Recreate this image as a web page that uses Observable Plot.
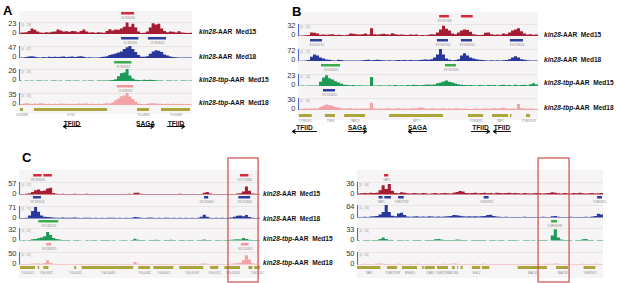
<!DOCTYPE html>
<html><head><meta charset="utf-8">
<script src="https://cdn.jsdelivr.net/npm/d3@7"></script>
<script src="https://cdn.jsdelivr.net/npm/@observablehq/plot@0.6"></script>
<style>
body{margin:0;background:#fff;}
#root{position:relative;width:617px;height:283px;overflow:hidden;font-family:"Liberation Sans",Arial,sans-serif;}
.lbl{position:absolute;white-space:nowrap;font-family:"Liberation Sans",Arial,sans-serif;font-weight:bold;font-size:8px;line-height:8px;color:#111;transform:scaleX(0.82);transform-origin:0 50%;}
.letter{position:absolute;font-weight:bold;font-size:13px;line-height:13px;color:#000;}
.bg{position:absolute;background:#f6f4f4;}
</style></head><body><div id="root"></div><script>
// ---------------- DATA ----------------
const trackNames = ["kin28-AAR Med15","kin28-AAR Med18","kin28-tbp-AAR Med15","kin28-tbp-AAR Med18"];
const trackColors = ["#a61c32","#27389a","#1e9a57","#f3a2a6"];
const peakColors = {red:"#d8283e", blue:"#2c3e9e", green:"#3bad4d", pink:"#f0959c"};
const geneColor = "#aca53c";

// signal values, as a fraction of each track's data range
// Panel A
const A_range = [23,47,26,35];
const A_kin28_Med15 = [0.1,0.12,0.15,0.25,0.45,0.35,0.2,0.12,0.1,0.15, 0.12,0.18,0.2,0.38,0.3,0.2,0.22,0.18,0.25,0.22, 0.15,0.25,0.38,0.2,0.12,0.15,0.1,0.15,0.12,0.1, 0.25,0.4,0.3,0.38,0.35,0.45,0.6,0.95,0.6,0.85, 0.55,0.2,0.08,0.1,0.2,0.55,0.9,0.8,0.85,0.45, 0.25,0.15,0.2,0.18,0.12,0.22,0.12,0.1,0.08,0.1];
const A_kin28_Med18 = [0.05,0.05,0.08,0.12,0.15,0.1,0.06,0.05,0.08,0.06, 0.1,0.08,0.1,0.08,0.1,0.12,0.08,0.1,0.12,0.08, 0.12,0.15,0.1,0.05,0.06,0.05,0.04,0.05,0.08,0.1, 0.15,0.25,0.32,0.38,0.45,0.55,0.75,0.9,1.0,0.75, 0.5,0.25,0.1,0.1,0.15,0.35,0.55,0.65,0.6,0.5, 0.3,0.2,0.12,0.08,0.06,0.05,0.05,0.04,0.05,0.05];
const A_tbp_Med15 = [0.04,0,0.05,0.03,0.04,0,0.05,0.04,0.03,0.05, 0,0.04,0.05,0.03,0.04,0,0.04,0.05,0.03,0.04, 0.05,0,0.04,0.03,0.05,0.04,0,0.04,0.05,0.04, 0.05,0.06,0.08,0.15,0.4,0.65,0.7,1.0,0.45,0.2, 0.1,0.08,0.06,0.1,0.08,0.1,0.08,0.06,0.05,0.04, 0,0.05,0.04,0.03,0.05,0,0.04,0.05,0.03,0.04];
const A_tbp_Med18 = [0.08,0.1,0.15,0.12,0.08,0.12,0.1,0.15,0.12,0.08, 0.1,0.08,0.1,0.08,0.12,0.1,0.1,0.08,0.1,0.08, 0.12,0.1,0.12,0.12,0.08,0.1,0.08,0.1,0.08,0.12, 0.15,0.12,0.2,0.4,0.55,0.72,0.8,1.0,0.7,0.5, 0.3,0.12,0.08,0.08,0.1,0.15,0.15,0.12,0.1,0.1, 0.08,0.1,0.08,0.1,0.08,0.1,0.08,0.06,0.08,0.06];
const A_peakColors = ["red","blue","green","pink"];
const A_peaks = [
  [{s:59,e:66.5,label:"IX:358246"}],
  [{s:59,e:69,label:"IX:358118"},{s:74.5,e:85,label:"IX:359020"}],
  [{s:55,e:65,label:"IX:358010"}],
  [{s:56.5,e:66,label:"IX:358080"}]
];
const A_genes = [{s:0.6,e:2.3,label:"YIL046W"},{s:8.7,e:50.9,label:"SYG1"},{s:68.2,e:75.1,label:"YIL048W"},{s:82.1,e:98.8,label:"YIL049W"}];
const A_arrows = [{label:"TFIID",from:35.3,to:25.4},{label:"SAGA",from:68.2,to:77.5},{label:"TFIID",from:85.5,to:95.4}];

// Panel B
const B_range = [32,72,23,30];
const B_kin28_Med15 = [0.05,0.05,0.06,0.08,0.3,0.28,0.2,0.1,0.12,0.1, 0.12,0.15,0.08,0.1,0.08,0.06,0.1,0.2,0.18,0.15, 0.12,0.15,0.2,0.12,0.65,0.15,0.12,0.15,0.18,0.15, 0.12,0.22,0.15,0.1,0.12,0.1,0.08,0.12,0.1,0.12, 0.06,0.08,0.06,0.1,0.15,0.12,0.3,0.55,0.85,0.6, 0.45,0.2,0.15,0.3,0.45,0.55,0.5,0.35,0.15,0.1, 0.08,0.1,0.28,0.3,0.15,0.1,0.12,0.1,0.2,0.15, 0.3,0.45,0.55,0.65,0.4,0.2,0.12,0.15,0.1,0.12];
const B_kin28_Med18 = [0.03,0.03,0.04,0.08,0.35,0.55,0.45,0.3,0.2,0.12, 0.1,0.06,0.05,0.1,0.08,0.05,0.04,0.05,0.04,0.05, 0.04,0.06,0.08,0.1,0.06,0.08,0.1,0.08,0.06,0.05, 0.06,0.05,0.06,0.08,0.06,0.08,0.06,0.08,0.07,0.06, 0.08,0.1,0.12,0.1,0.15,0.3,0.55,1.0,0.55,0.2, 0.1,0.06,0.08,0.15,0.45,0.65,0.45,0.3,0.2,0.15, 0.1,0.08,0.06,0.05,0.06,0.05,0.06,0.05,0.06,0.08, 0.15,0.3,0.4,0.3,0.15,0.1,0.06,0.05,0.05,0.04];
const B_tbp_Med15 = [0.03,0.04,0.03,0.05,0.04,0.05,0.04,0.35,0.7,0.9, 0.65,0.55,0.4,0.3,0.18,0.1,0.08,0.06,0.08,0.05, 0.06,0.04,0.05,0.04,0.75,0.05,0.04,0.06,0.05,0.04, 0.06,0.05,0.08,0.04,0.06,0.05,0.08,0.06,0.1,0.08, 0.06,0.08,0.1,0.12,0.1,0.12,0.22,0.3,0.38,0.45, 0.35,0.3,0.2,0.15,0.1,0.08,0.06,0.08,0.06,0.05, 0.08,0.06,0.05,0.08,0.06,0.08,0.05,0.08,0.1,0.06, 0.08,0.05,0.1,0.06,0.08,0.1,0.06,0.15,0.22,0.12];
const B_tbp_Med18 = [0.08,0.1,0.12,0.1,0.12,0.15,0.12,0.25,0.35,0.45, 0.4,0.35,0.25,0.2,0.15,0.12,0.12,0.15,0.1,0.12, 0.1,0.12,0.1,0.12,0.6,0.12,0.1,0.12,0.1,0.15, 0.12,0.1,0.12,0.15,0.1,0.12,0.1,0.12,0.15,0.12, 0.2,0.18,0.12,0.1,0.15,0.12,0.1,0.12,0.15,0.1, 0.12,0.1,0.15,0.12,0.1,0.12,0.1,0.08,0.1,0.12, 0.08,0.1,0.12,0.1,0.12,0.15,0.12,0.15,0.18,0.12, 0.1,0.12,0.1,0.5,0.15,0.12,0.1,0.12,0.1,0.08];
const B_peakColors = ["red","blue","green","blue"];
const B_peaks = [
  [{s:58.8,e:62.9,label:"XV:567380"},{s:67.9,e:72.8,label:""}],
  [{s:5,e:10,label:"XV:542710"},{s:57.9,e:62.5,label:"XV:567160"},{s:67.9,e:72.5,label:"XV:569290"},{s:88.3,e:93.75,label:"XV:576010"}],
  [{s:9.6,e:17.5,label:"XV:543920"},{s:61.25,e:65.8,label:"XV:567920"}],
  [{s:10.4,e:15.4,label:"XV:543010"}]
];
const B_genes = [{s:0.4,e:5.7,label:"YOR005C"},{s:11.25,e:15.4,label:"TSR3"},{s:19.2,e:27.9,label:"TAF13"},{s:37.9,e:60.4,label:"SPT7"},{s:70.8,e:77.1,label:"YOR008C"},{s:80.8,e:87.5,label:"TAF2"},{s:88.3,e:88.9,label:""},{s:95,e:96.7,label:"YOR011W"}];
const B_arrows = [{label:"TFIID",from:7.5,to:-2.5},{label:"SAGA",from:20.8,to:28.3},{label:"SAGA",from:53.3,to:45.8},{label:"TFIID",from:72.1,to:79.6},{label:"TFIID",from:88.3,to:81.25}];

// Panel C, left region
const C1_range = [57,71,32,50];
const C1_kin28_Med15 = [0.04,0.05,0.06,0.1,0.2,0.35,0.4,0.28,0.32,0.48, 0.55,0.12,0.06,0.05,0.06,0.05,0.04,0.05,0.06,0.05, 0.04,0.05,0.06,0.05,0.04,0.05,0.04,0.05,0.04,0.05, 0.04,0.05,0.04,0.05,0.04,0.05,0.06,0.05,0.14,0.15, 0.06,0.05,0.05,0.04,0.05,0.04,0.05,0.04,0.05,0.04, 0.05,0.04,0.05,0.06,0.05,0.04,0.05,0.05,0.04,0.05, 0.05,0.15,0.2,0.08,0.05,0.04,0.05,0.04,0.05,0.04, 0.05,0.04,0.08,0.1,0.25,0.65,0.3,0.08,0.06,0.05];
const C1_kin28_Med18 = [0.04,0.05,0.06,0.25,0.6,0.92,0.55,0.25,0.15,0.12, 0.1,0.08,0.07,0.06,0.08,0.06,0.07,0.06,0.08,0.06, 0.05,0.06,0.07,0.06,0.05,0.06,0.05,0.06,0.05,0.06, 0.07,0.06,0.05,0.06,0.05,0.06,0.05,0.06,0.12,0.1, 0.06,0.05,0.06,0.08,0.06,0.05,0.06,0.05,0.06,0.07, 0.05,0.06,0.05,0.06,0.05,0.06,0.05,0.06,0.05,0.06, 0.15,0.3,0.15,0.06,0.05,0.06,0.05,0.06,0.05,0.06, 0.08,0.15,0.22,0.25,0.18,0.28,0.12,0.06,0.05,0.06];
const C1_tbp_Med15 = [0.03,0.04,0.03,0.05,0.1,0.12,0.18,0.25,0.35,0.68, 0.45,0.2,0.12,0.08,0.05,0.04,0.05,0,0.04,0.05, 0.03,0,0.05,0.03,0.04,0.05,0,0.04,0.05,0.04, 0.03,0.05,0,0.03,0.05,0.04,0,0.05,0.15,0.06, 0.04,0.05,0,0.04,0.05,0.06,0.04,0,0.05,0.04, 0.06,0.04,0,0.05,0.04,0.03,0.05,0.04,0,0.05, 0.04,0.08,0.05,0.04,0,0.05,0.04,0.03,0.05,0.04, 0.06,0.08,0.1,0.08,0.2,0.12,0.06,0.05,0.04,0.05];
const C1_tbp_Med18 = [0.04,0.05,0.04,0.05,0.06,0.08,0.08,0.06,0.1,0.35, 0.12,0.06,0.05,0.05,0.04,0.05,0.04,0.05,0.04,0.05, 0.04,0.05,0.04,0.05,0.04,0.05,0.04,0.05,0.04,0.05, 0.04,0.05,0.04,0.05,0.04,0.05,0.04,0.05,0.2,0.06, 0.04,0.05,0.04,0.05,0.04,0.05,0.04,0.05,0.04,0.05, 0.04,0.05,0.04,0.05,0.04,0.05,0.04,0.05,0.04,0.05, 0.06,0.08,0.06,0.05,0.04,0.05,0.04,0.05,0.04,0.05, 0.06,0.08,0.1,0.15,0.35,0.75,0.4,0.1,0.06,0.05];
const C1_peakColors = ["red","blue","green","pink"];
const C1_peaks = [
  [{s:5.9,e:9.4,label:"VII:183420"},{s:10.1,e:13.6,label:""},{s:91.7,e:95.2,label:"VII:214880"}],
  [{s:5.8,e:9.1,label:"VII:183510"},{s:76.8,e:78.5,label:"VII:209400"},{s:91,e:95.9,label:"VII:214630"}],
  [{s:8,e:16.3,label:"VII:184220"}],
  [{s:11.3,e:13.3,label:"VII:184870"},{s:92.1,e:95.2,label:"VII:214950"}]
];
const C1_genes = [{s:0.4,e:6.6,label:"YGL001C"},{s:7.8,e:8.4,label:""},{s:10.1,e:12.2,label:"YGL003C"},{s:22.9,e:23.7,label:"YGL005C"},{s:26,e:47.4,label:"YGL006W"},{s:49.5,e:54.4,label:"YGL008C"},{s:55.7,e:64,label:"YGL009C"},{s:66.5,e:76.5,label:"YGL010W"},{s:79.3,e:82.7,label:"YGL011C"},{s:85.2,e:91.7,label:"YGL012W"},{s:95.2,e:96.8,label:""},{s:97.6,e:100,label:"YGL013C"}];
const C1_highlight = [{s:86.7,e:99.2}];

// Panel C, right region
const C2_range = [36,64,33,50];
const C2_kin28_Med15 = [0.08,0.1,0.12,0.1,0.15,0.12,0.15,0.35,0.75,0.45, 0.85,0.3,0.12,0.1,0.18,0.15,0.1,0.08,0.12,0.1, 0.08,0.12,0.1,0.06,0.1,0.12,0.08,0.1,0.12,0.1, 0.08,0.15,0.2,0.28,0.25,0.12,0.1,0.12,0.15,0.1, 0.12,0.15,0.1,0.12,0.08,0.15,0.12,0.1,0.12,0.15, 0.1,0.12,0.1,0.08,0.12,0.1,0.08,0.1,0.12,0.1, 0.08,0.1,0.12,0.18,0.15,0.1,0.08,0.12,0.1,0.08, 0.12,0.1,0.15,0.1,0.08,0.1,0.12,0.08,0.1,0.12];
const C2_kin28_Med18 = [0.04,0.05,0.06,0.05,0.08,0.1,0.12,0.25,0.45,1.0, 0.45,0.15,0.1,0.32,0.38,0.2,0.08,0.06,0.08,0.1, 0.06,0.08,0.06,0.1,0.08,0.06,0.08,0.06,0.08,0.1, 0.12,0.2,0.18,0.15,0.1,0.08,0.1,0.08,0.1,0.08, 0.1,0.12,0.2,0.22,0.12,0.08,0.06,0.05,0.06,0.05, 0.04,0.05,0.04,0.05,0.06,0.05,0.04,0.05,0.04,0.05, 0.06,0.05,0.04,0.1,0.12,0.06,0.05,0.04,0.05,0.06, 0.04,0.05,0.04,0.05,0.06,0.05,0.08,0.12,0.3,0.25];
const C2_tbp_Med15 = [0.04,0,0.05,0.04,0.03,0.05,0.04,0.12,0.25,0.12, 0.05,0.04,0,0.05,0.04,0.03,0.05,0,0.04,0.05, 0.04,0,0.05,0.04,0.05,0.1,0.12,0.08,0.05,0.04, 0.05,0.04,0.08,0.06,0.05,0.04,0,0.05,0.04,0.05, 0.04,0.05,0,0.04,0.05,0.03,0.04,0.05,0,0.04, 0.05,0.04,0.03,0,0.05,0.04,0.03,0.05,0,0.04, 0.05,0.04,0,0.4,0.9,0.25,0.08,0.04,0.05,0.04, 0,0.04,0.05,0.1,0.12,0.05,0.04,0,0.05,0.04];
const C2_tbp_Med18 = [0.04,0.05,0.06,0.04,0.05,0.04,0.06,0.08,0.06,0.05, 0.04,0.05,0.04,0.06,0.05,0.04,0.05,0.04,0.05,0.06, 0.04,0.05,0.04,0.05,0.06,0.05,0.04,0.05,0.06,0.05, 0.06,0.08,0.06,0.05,0.04,0.05,0.04,0.06,0.05,0.04, 0.05,0.06,0.05,0.04,0.05,0.04,0.05,0.04,0.05,0.04, 0.04,0.05,0.04,0.05,0.04,0.05,0.04,0.05,0.04,0.05, 0.05,0.04,0.06,0.05,0.08,0.06,0.05,0.04,0.05,0.04, 0.05,0.04,0.05,0.06,0.05,0.04,0.05,0.06,0.05,0.04];
const C2_peakColors = ["red","blue","green","pink"];
const C2_peaks = [
  [{s:11,e:12.7,label:"TAF1"}],
  [{s:8.8,e:10.4,label:"TAF1"},{s:11.1,e:13.8,label:""},{s:16.7,e:19,label:"YGR275W"},{s:51.5,e:53.5,label:"YGR283C"},{s:97.6,e:99.6,label:"YGR295C"}],
  [{s:78.9,e:81.3,label:"YGR290W"}],
  []
];
const C2_genes = [{s:0,e:9.5,label:"TAF1"},{s:12.2,e:16.3,label:"YGR275W"},{s:18.3,e:24.4,label:"RNH70"},{s:26.4,e:27.1,label:""},{s:27.5,e:31.6,label:"CAB5"},{s:32.5,e:37,label:"YGR278W"},{s:38.6,e:39.7,label:"SCW4"},{s:40.7,e:41.1,label:""},{s:42.1,e:43,label:""},{s:46.7,e:50.1,label:"BGL2"},{s:50.8,e:53.8,label:""},{s:65.3,e:77.2,label:"MAL31"},{s:80.9,e:85.8,label:"MAL33"},{s:92.1,e:96.9,label:"YGR295C"}];
const C2_highlight = [{s:73.6,e:86.2}];

// ---------------- LAYOUT ----------------
const layout = {
  A:  {x0:19,  w:173, th:12,   bases:[34,57.7,81.3,105],       peakY:[13.5,38,62,86],        geneY:109,   arrowY:121, arrowGap:7, labelX:199, labelY:[32,57,80,103],   bg:[11,114],  letter:["A",3,4]},
  B:  {x0:298, w:240, th:12,   bases:[36,61,85.5,110],         peakY:[16,40,65,90],          geneY:115,   arrowY:125, arrowGap:8, labelX:544, labelY:[35,60,83,108],   bg:[12,120],  letter:["B",292,5]},
  C1: {x0:19,  w:241, th:12.5, bases:[194.7,218,240.7,264.7],  peakY:[175,197.5,221,244.5],  geneY:267.5, labelX:263, labelY:[194,219,239,263], bg:[170,278], letter:["C",22,151], box:[158,282]},
  C2: {x0:357, w:246, th:12.5, bases:[194,217,240.7,264],      peakY:[175,197.5,221,244.5],  geneY:267.5, bg:[170,278], box:[158,282]}
};
const panels = {
  A:  {range:A_range,  signals:[A_kin28_Med15,A_kin28_Med18,A_tbp_Med15,A_tbp_Med18],     peaks:A_peaks,  peakColors:A_peakColors,  genes:A_genes,  arrows:A_arrows},
  B:  {range:B_range,  signals:[B_kin28_Med15,B_kin28_Med18,B_tbp_Med15,B_tbp_Med18],     peaks:B_peaks,  peakColors:B_peakColors,  genes:B_genes,  arrows:B_arrows},
  C1: {range:C1_range, signals:[C1_kin28_Med15,C1_kin28_Med18,C1_tbp_Med15,C1_tbp_Med18], peaks:C1_peaks, peakColors:C1_peakColors, genes:C1_genes, highlight:C1_highlight},
  C2: {range:C2_range, signals:[C2_kin28_Med15,C2_kin28_Med18,C2_tbp_Med15,C2_tbp_Med18], peaks:C2_peaks, peakColors:C2_peakColors, genes:C2_genes, highlight:C2_highlight}
};

// ---------------- DRAW ----------------
const FONT = '"Liberation Sans", Arial, sans-serif';
const root = document.getElementById("root");
function put(node, left, top) {
  node.style.position = "absolute"; node.style.left = left + "px"; node.style.top = top + "px";
  root.appendChild(node); return node;
}
const st = (extra = {}) => Object.assign({background:"transparent", overflow:"visible", maxWidth:"none", fontFamily:FONT}, extra);

function drawPanel(d, L) {
  const bg = document.createElement("div");
  bg.className = "bg"; bg.style.width = L.w + "px"; bg.style.height = (L.bg[1] - L.bg[0]) + "px";
  put(bg, L.x0, L.bg[0]);

  // signal tracks
  const ML = 24, MT = 3, MB = 2;
  d.signals.forEach((vals, i) => {
    const max = d.range[i], n = vals.length;
    const pts = vals.map((f, j) => ({x: j, v: f * max}));
    pts.push({x: n, v: vals[n - 1] * max});
    const svg = Plot.plot({
      width: L.w + ML, height: L.th + MT + MB,
      marginLeft: ML, marginRight: 0, marginTop: MT, marginBottom: MB,
      style: st(),
      x: {domain: [0, n], axis: null},
      y: {domain: [0, max], axis: null},
      marks: [
        Plot.ruleY([max], {stroke: "#e2dada", strokeWidth: 0.6}),
        Plot.areaY(pts, {x: "x", y: "v", curve: "step-after", fill: trackColors[i]}),
        Plot.ruleX([0], {stroke: "#4b6fce", strokeWidth: 1.1}),
        Plot.text([max], {y: v => v, text: v => String(v), frameAnchor: "left", dx: -3, dy: 1.5, textAnchor: "end", fontSize: 7.5, fill: "#333"}),
        Plot.text([0], {y: v => v, text: v => String(v), frameAnchor: "left", dx: -3, dy: -1.5, textAnchor: "end", fontSize: 7.5, fill: "#333"}),
        Plot.text([`[0 - ${max}]`], {text: t => t, frameAnchor: "top-left", dx: 2, dy: 1.5, textAnchor: "start", fontSize: 3, fill: "#9a9a9a"})
      ]
    });
    put(svg, L.x0 - ML, L.bases[i] - L.th - MT);
  });

  // peak-call rows
  d.peaks.forEach((row, r) => {
    if (!row.length) return;
    const svg = Plot.plot({
      width: L.w, height: 9, marginLeft: 0, marginRight: 0, marginTop: 0, marginBottom: 6.5,
      style: st(), x: {domain: [0, 100], axis: null},
      marks: [
        Plot.barX(row, {x1: "s", x2: "e", fill: peakColors[d.peakColors[r]]}),
        Plot.text(row, {x: p => (p.s + p.e) / 2, text: "label", frameAnchor: "bottom", dy: 3.5, fontSize: 3, fill: "#8a8a8a"})
      ]
    });
    put(svg, L.x0, L.peakY[r] - 1.25);
  });

  // genes
  const gsvg = Plot.plot({
    width: L.w, height: 10, marginLeft: 0, marginRight: 0, marginTop: 0, marginBottom: 7,
    style: st(), x: {domain: [0, 100], axis: null},
    marks: [
      Plot.barX(d.genes, {x1: "s", x2: "e", fill: geneColor}),
      Plot.text(d.genes, {x: g => (g.s + g.e) / 2, text: "label", frameAnchor: "bottom", dy: 4, fontSize: 3, fill: "#8a8a8a"})
    ]
  });
  put(gsvg, L.x0, L.geneY - 1.5);

  // complex arrows
  if (d.arrows) {
    const asvg = Plot.plot({
      width: L.w, height: 16, margin: 0,
      style: st(),
      x: {domain: [0, 100], axis: null},
      y: {type: "point", domain: ["label", "arrow"], range: [4, 4 + L.arrowGap], axis: null},
      marks: [
        Plot.text(d.arrows, {x: a => (a.from + a.to) / 2, y: () => "label", text: "label", fontWeight: "bold", fontSize: 8, fill: "#111"}),
        Plot.arrow(d.arrows, {x1: "from", x2: "to", y1: () => "arrow", y2: () => "arrow", stroke: "#111", strokeWidth: 1.2, headLength: 4, headAngle: 70})
      ]
    });
    put(asvg, L.x0, L.arrowY - 4);
    // condense the bold labels to the narrow face used in the figure
    asvg.querySelectorAll("text").forEach(t => {
      const len = t.getComputedTextLength();
      if (len > 0) { t.setAttribute("textLength", (len * 0.82).toFixed(2)); t.setAttribute("lengthAdjust", "spacingAndGlyphs"); }
    });
  }

  // highlight box
  if (d.highlight) {
    const hsvg = Plot.plot({
      width: L.w, height: L.box[1] - L.box[0], margin: 0,
      style: st(), x: {domain: [0, 100], axis: null},
      marks: [Plot.barX(d.highlight, {x1: "s", x2: "e", fill: "none", stroke: "#cf4b4b", strokeWidth: 1.2})]
    });
    put(hsvg, L.x0, L.box[0]);
  }

  // track names
  if (L.labelX != null) {
    trackNames.forEach((name, i) => {
      const el = document.createElement("div");
      el.className = "lbl";
      el.innerHTML = name.replace(/(kin28|tbp)/g, "<i>$1</i>").replace(" Med", "&nbsp;&nbsp;Med");
      put(el, L.labelX, L.labelY[i] - 4);
    });
  }
  if (L.letter) {
    const el = document.createElement("div");
    el.className = "letter"; el.textContent = L.letter[0];
    put(el, L.letter[1], L.letter[2]);
  }
}

for (const k of ["A", "B", "C1", "C2"]) drawPanel(panels[k], layout[k]);
</script></body></html>
